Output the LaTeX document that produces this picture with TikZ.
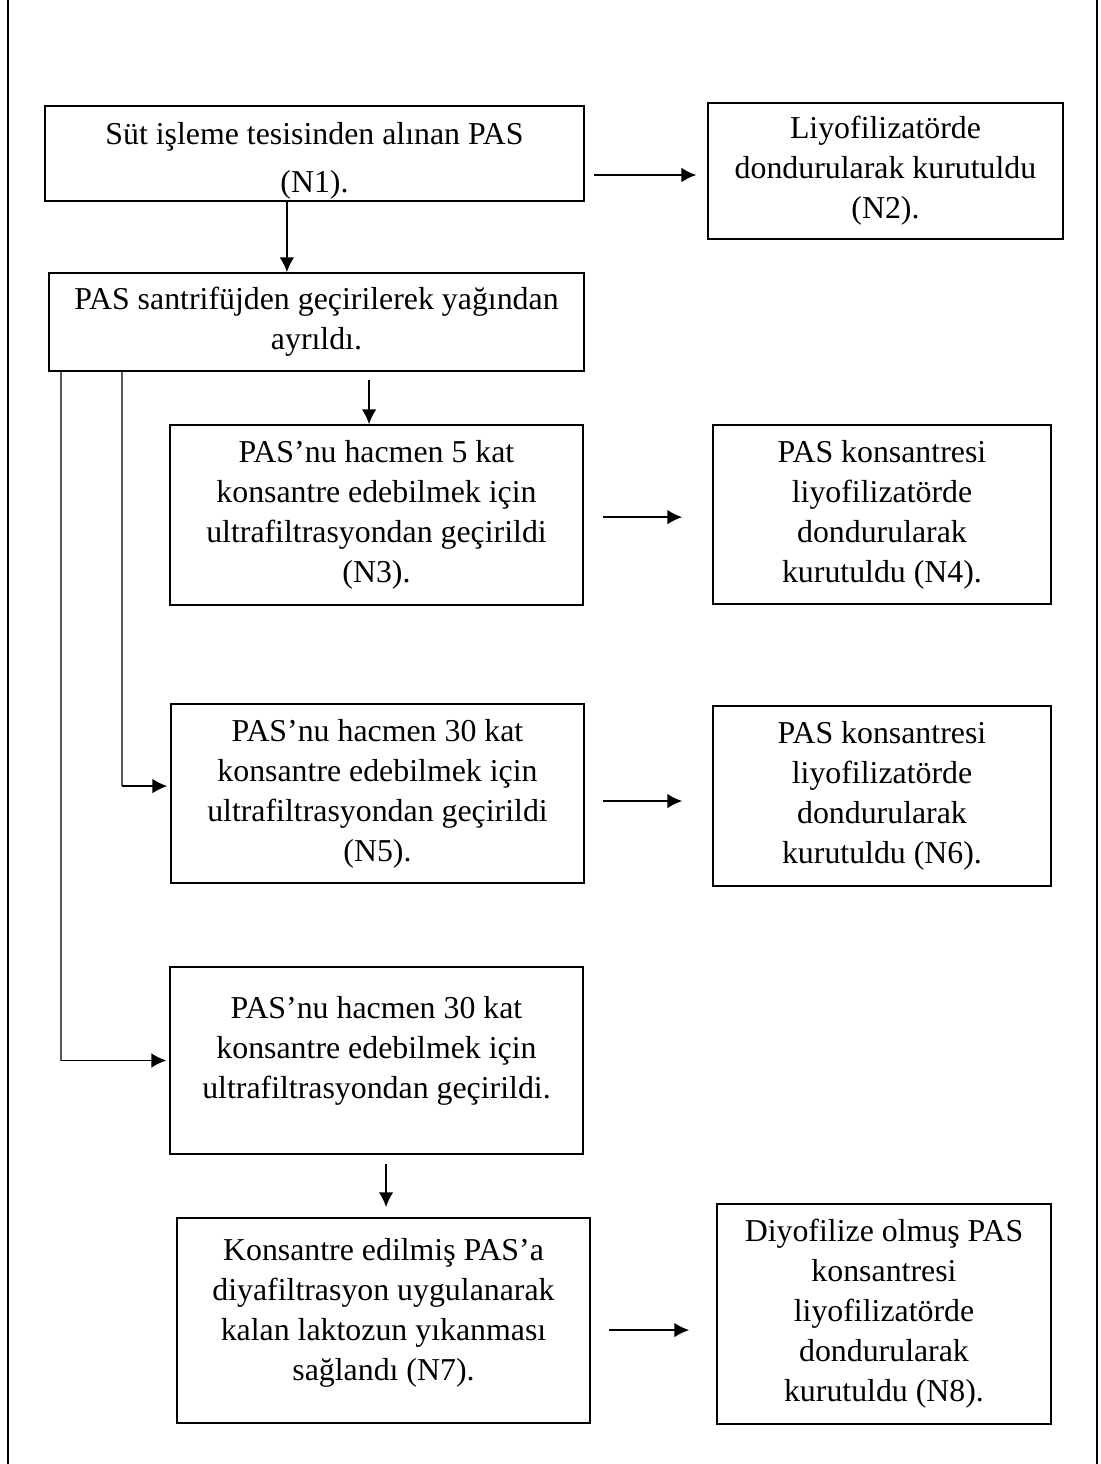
\documentclass[tikz,border=0pt]{standalone}
\usepackage{fontspec}
\setmainfont{Liberation Serif}
\usetikzlibrary{arrows.meta}
\newcommand\pxu{0.3768pt}
\begin{document}
\begin{tikzpicture}[x=\pxu,y=-\pxu,
  box/.style 2 args={draw,line width=0.6pt,minimum width=#1*\pxu,minimum height=#2*\pxu,
    inner sep=0pt,align=center,font=\fontsize{12}{15.07}\selectfont},
  flowarrow/.style={line width=0.6pt,-{Latex[length=5.6pt,width=5.5pt]}},
  feedline/.style={black!65,line width=0.4pt},
  frameline/.style={line width=0.7pt}]
 \useasboundingbox (0,0) rectangle (1101,1464);
 \draw[frameline] (8,0) -- (8,1464);
 \draw[frameline] (1097,0) -- (1097,1464);
 \node[box={539}{95}] (N1) at (314.5,153.5) {\rule{0pt}{14.2pt}Süt işleme tesisinden alınan PAS\\[3pt](N1).};
 \node[box={355}{136}] (N2) at (885.5,171) {Liyofilizatörde\\dondurularak kurutuldu\\(N2).};
 \node[box={535}{98}] (S) at (316.5,322) {PAS santrifüjden geçirilerek yağından\\ayrıldı.};
 \node[box={413}{180}] (N3) at (376.5,515) {PAS’nu hacmen 5 kat\\konsantre edebilmek için\\ultrafiltrasyondan geçirildi\\(N3).};
 \node[box={338}{179}] (N4) at (882,514.5) {PAS konsantresi\\liyofilizatörde\\dondurularak\\kurutuldu (N4).};
 \node[box={413}{179}] (N5) at (377.5,793.5) {PAS’nu hacmen 30 kat\\konsantre edebilmek için\\ultrafiltrasyondan geçirildi\\(N5).};
 \node[box={338}{180}] (N6) at (882,796) {PAS konsantresi\\liyofilizatörde\\dondurularak\\kurutuldu (N6).};
 \node[box={413}{187}] (UF) at (376.5,1060.5) {PAS’nu hacmen 30 kat\\konsantre edebilmek için\\ultrafiltrasyondan geçirildi.\rule[-9.6pt]{0pt}{9.6pt}};
 \node[box={413}{205}] (N7) at (383.5,1320.5) {Konsantre edilmiş PAS’a\\diyafiltrasyon uygulanarak\\kalan laktozun yıkanması\\sağlandı (N7).\rule[-8.6pt]{0pt}{8.6pt}};
 \node[box={334}{220}] (N8) at (884,1314) {Diyofilize olmuş PAS\\konsantresi\\liyofilizatörde\\dondurularak\\kurutuldu (N8).};
 \coordinate (tapA) at (S.south -| 122,0);
 \coordinate (tapB) at (S.south -| 61,0);
 \coordinate (bendA) at ([yshift=2.8pt]tapA |- N5.west);
 \coordinate (bendB) at (tapB |- UF.west);
 \draw[flowarrow,shorten <=3.4pt,shorten >=4.1pt] ([yshift=-1.5pt]N1.east |- N2.west) -- ([yshift=-1.5pt]N2.west);
 \draw[flowarrow] ([xshift=-10.4pt]N1.south) -- ([xshift=-10.4pt]N1.south |- S.north);
 \draw[flowarrow,shorten <=3pt] ([xshift=-2.8pt]N3.north |- S.south) -- ([xshift=-2.8pt]N3.north);
 \draw[flowarrow,shorten <=7.2pt,shorten >=11.3pt] ([yshift=-0.8pt]N3.east) -- ([yshift=-0.8pt]N3.east -| N4.west);
 \draw[flowarrow,shorten <=6.8pt,shorten >=11.3pt] ([yshift=-1.9pt]N5.east |- N6.west) -- ([yshift=-1.9pt]N6.west);
 \draw[feedline] (tapA) -- (bendA);
 \draw[feedline] (tapB) -- (bendB);
 \draw[flowarrow,shorten >=1.1pt] (bendA) -- (bendA -| N5.west);
 \draw[flowarrow,shorten >=1.1pt] (bendB) -- (UF.west);
 \draw[flowarrow,shorten <=3.4pt,shorten >=3.8pt] ([xshift=3.6pt]UF.south) -- ([xshift=3.6pt]UF.south |- N7.north);
 \draw[flowarrow,shorten <=6.8pt,shorten >=10.2pt] ([yshift=-3.6pt]N7.east) -- ([yshift=-3.6pt]N7.east -| N8.west);
\end{tikzpicture}
\end{document}
